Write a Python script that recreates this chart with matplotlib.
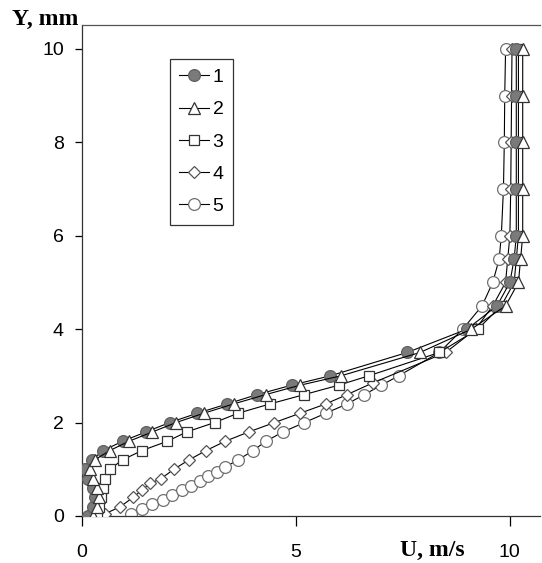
import numpy as np
import matplotlib
matplotlib.use("Agg")
import matplotlib.pyplot as plt

# Y levels (mm) and velocity profiles U (m/s)
y_grid = [0, 0.2, 0.4, 0.6, 0.8, 1.0, 1.2, 1.4, 1.6, 1.8, 2.0, 2.2, 2.4, 2.6,
          2.8, 3.0, 3.5, 4.0, 4.5, 5.0, 5.5, 6, 7, 8, 9, 10]
u1 = [0.15, 0.25, 0.3, 0.25, 0.15, 0.07, 0.23, 0.5, 0.95, 1.5, 2.05, 2.7, 3.4,
      4.1, 4.9, 5.8, 7.6, 9.0, 9.7, 10.0, 10.1, 10.15, 10.15, 10.15, 10.15, 10.15]
u2 = [0.25, 0.35, 0.4, 0.35, 0.25, 0.2, 0.3, 0.65, 1.1, 1.65, 2.2, 2.85, 3.55,
      4.3, 5.1, 6.05, 7.9, 9.1, 9.9, 10.2, 10.25, 10.3, 10.3, 10.3, 10.3, 10.3]
u3 = [0.35, 0.4, 0.45, 0.5, 0.55, 0.65, 0.95, 1.4, 2.0, 2.45, 3.1, 3.65, 4.4,
      5.2, 6.0, 6.7, 8.35, 9.25, 9.8, 10.1, 10.15, 10.2, 10.2, 10.2, 10.2, 10.2]

y4 = [0.05, 0.2, 0.4, 0.55, 0.7, 0.8, 1.0, 1.2, 1.4, 1.6, 1.8, 2.0, 2.2, 2.4,
      2.6, 2.85, 3.5, 4.0, 4.5, 5.0, 5.5, 6, 7, 8, 9, 10]
u4 = [0.55, 0.9, 1.2, 1.4, 1.6, 1.85, 2.15, 2.5, 2.9, 3.35, 3.9, 4.5, 5.1, 5.7,
      6.2, 6.8, 8.5, 9.2, 9.6, 9.9, 9.95, 10.0, 10.02, 10.03, 10.04, 10.05]

y5 = [0.05, 0.15, 0.25, 0.35, 0.45, 0.55, 0.65, 0.75, 0.85, 0.95, 1.05, 1.2,
      1.4, 1.6, 1.8, 2.0, 2.2, 2.4, 2.6, 2.8, 3.0, 3.5, 4.0, 4.5, 5.0, 5.5,
      6.0, 7.0, 8.0, 9.0, 10.0]
u5 = [1.15, 1.4, 1.65, 1.9, 2.1, 2.35, 2.55, 2.75, 2.95, 3.15, 3.35, 3.65,
      4.0, 4.3, 4.7, 5.2, 5.7, 6.2, 6.6, 7.0, 7.4, 8.35, 8.9, 9.35, 9.6, 9.75,
      9.8, 9.85, 9.87, 9.88, 9.9]

labels = ["1", "2", "3", "4", "5"]

fig = plt.figure(figsize=(5.42, 5.63), dpi=100)
ax = fig.add_axes([0.151, 0.0835, 0.845, 0.872])

ms = 8.5
lw = 0.8
ax.plot(u5, y5, color="black", lw=lw, marker="o", ms=ms, mfc="white",
        mec="#707070", mew=0.9, label=labels[4], zorder=2)
ax.plot(u4, y4, color="black", lw=lw, marker="D", ms=ms * 0.7, mfc="white",
        mec="#555555", mew=0.9, label=labels[3], zorder=3)
ax.plot(u3, y_grid, color="black", lw=lw, marker="s", ms=ms * 0.9, mfc="white",
        mec="#333333", mew=0.9, label=labels[2], zorder=4)
ax.plot(u1, y_grid, color="black", lw=lw, marker="o", ms=ms, mfc="#7a7a7a",
        mec="#606060", mew=0.9, label=labels[0], zorder=5)
ax.plot(u2, y_grid, color="black", lw=lw, marker="^", ms=ms * 1.05, mfc="white",
        mec="#333333", mew=0.9, label=labels[1], zorder=6)

ax.set_xlim(0, 10.7)
ax.set_ylim(0, 10.51)
ax.set_xticks([0, 5, 10])
ax.set_yticks([0, 2, 4, 6, 8, 10])
ax.spines["right"].set_visible(False)
for s in ["left", "top", "bottom"]:
    ax.spines[s].set_linewidth(0.9)
    ax.spines[s].set_color("#333333")
ax.spines["top"].set_color("#555555")
ax.tick_params(axis="y", direction="out", length=5, width=0.9, pad=8,
               labelsize=14)
ax.tick_params(axis="x", direction="out", length=7, width=0.9, pad=13,
               labelsize=14)
for t in ax.get_xticklabels() + ax.get_yticklabels():
    t.set_fontfamily("Liberation Sans")

fig.text(0.022, 0.965, "Y, mm", fontsize=17, fontweight="bold",
         family="Liberation Serif", va="center", ha="left")
fig.text(0.798, 0.022, "U, m/s", fontsize=17, fontweight="bold",
         family="Liberation Serif", va="center", ha="center")

h, l = ax.get_legend_handles_labels()
order = [3, 4, 2, 1, 0]
leg = ax.legend([h[i] for i in order], [l[i] for i in order],
                loc="upper left", bbox_to_anchor=(0.192, 0.931),
                borderaxespad=0, fancybox=False, frameon=True,
                edgecolor="black", handlelength=1.5, labelspacing=0.75,
                handletextpad=0.2, borderpad=0.5,
                prop={"family": "Liberation Sans", "size": 14})
leg.get_frame().set_linewidth(0.9)

fig.savefig("out.png", dpi=100)
